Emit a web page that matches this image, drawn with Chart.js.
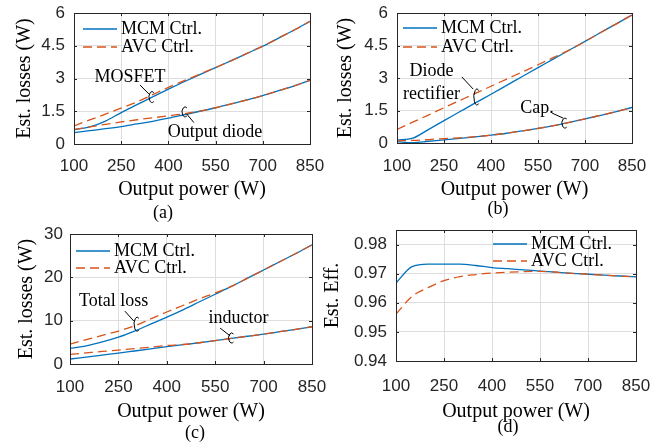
<!DOCTYPE html>
<html>
<head>
<meta charset="utf-8">
<script src="https://cdn.jsdelivr.net/npm/chart.js@4.4.1/dist/chart.umd.min.js"></script>
<style>
  body { margin: 0; background: #fff; width: 670px; height: 447px; position: relative; overflow: hidden; }
  canvas { position: absolute; }
  .cap { position: absolute; font: 18px "Liberation Serif", serif; color: #000; transform: translate(-50%, -50%); white-space: nowrap; }
</style>
</head>
<body>
<canvas id="chart-a"></canvas>
<canvas id="chart-b"></canvas>
<canvas id="chart-c"></canvas>
<canvas id="chart-d"></canvas>
<div class="cap" style="left:163px;top:212px">(a)</div>
<div class="cap" style="left:498px;top:208px">(b)</div>
<div class="cap" style="left:195px;top:432px">(c)</div>
<div class="cap" style="left:508px;top:426px">(d)</div>
<script>
// output power sweep (W), shared by all four plots
const powerW = [100, 150, 200, 250, 300, 350, 400, 450, 500, 550, 600, 650, 700, 750, 800, 850];
const powerTicks = [100, 250, 400, 550, 700, 850];

// (a) MOSFET and output diode losses (W)
const mosfetMcm = [0.65, 0.78, 1.05, 1.44, 1.80, 2.16, 2.51, 2.85, 3.18, 3.50, 3.82, 4.15, 4.48, 4.85, 5.22, 5.62];
const mosfetAvc = [0.83, 1.10, 1.37, 1.64, 1.93, 2.26, 2.59, 2.90, 3.20, 3.50, 3.82, 4.15, 4.48, 4.85, 5.22, 5.62];
const diodeMcm = [0.52, 0.61, 0.70, 0.80, 0.92, 1.04, 1.18, 1.34, 1.50, 1.66, 1.84, 2.02, 2.22, 2.44, 2.66, 2.92];
const diodeAvc = [0.67, 0.78, 0.90, 1.01, 1.11, 1.20, 1.29, 1.38, 1.51, 1.66, 1.84, 2.02, 2.22, 2.44, 2.66, 2.92];
const lossTicks = [0, 1.5, 3, 4.5, 6];

// (b) diode rectifier and capacitor losses (W)
const rectMcm = [0.14, 0.22, 0.62, 1.03, 1.44, 1.85, 2.25, 2.66, 3.07, 3.48, 3.88, 4.29, 4.69, 5.10, 5.50, 5.91];
const rectAvc = [0.63, 0.96, 1.29, 1.63, 1.96, 2.29, 2.62, 2.95, 3.28, 3.61, 3.95, 4.29, 4.69, 5.10, 5.50, 5.91];
const capMcm = [0.06, 0.02, 0.08, 0.14, 0.21, 0.28, 0.36, 0.45, 0.56, 0.67, 0.80, 0.95, 1.11, 1.28, 1.45, 1.64];
const capAvc = [0.10, 0.12, 0.16, 0.20, 0.24, 0.29, 0.36, 0.45, 0.56, 0.67, 0.80, 0.95, 1.11, 1.28, 1.45, 1.64];

// (c) total and inductor losses (W)
const totalMcm = [3.6, 4.2, 5.1, 6.2, 7.6, 9.2, 10.8, 12.5, 14.3, 16.1, 17.9, 19.8, 21.7, 23.6, 25.5, 27.5];
const totalAvc = [4.6, 5.6, 6.6, 7.6, 8.8, 10.4, 12.0, 13.5, 15.0, 16.4, 17.9, 19.8, 21.7, 23.6, 25.5, 27.5];
const inductorMcm = [1.15, 1.6, 2.05, 2.5, 3.0, 3.5, 4.0, 4.45, 4.9, 5.4, 5.9, 6.4, 6.9, 7.45, 8.0, 8.6];
const inductorAvc = [2.2, 2.55, 2.9, 3.2, 3.55, 3.9, 4.25, 4.5, 4.9, 5.4, 5.9, 6.4, 6.9, 7.45, 8.0, 8.6];
const totalTicks = [0, 10, 20, 30];

// (d) estimated efficiency
const effMcm = [0.9668, 0.9724, 0.9733, 0.9733, 0.9733, 0.9728, 0.9721, 0.9717, 0.9713, 0.9709, 0.9705, 0.9701, 0.9698, 0.9695, 0.9692, 0.9689];
const effAvc = [0.9561, 0.9622, 0.9652, 0.9676, 0.9690, 0.9697, 0.9702, 0.9705, 0.9707, 0.9708, 0.9705, 0.9701, 0.9698, 0.9695, 0.9692, 0.9689];
const effTicks = [0.94, 0.95, 0.96, 0.97, 0.98];

const MCM_LABEL = 'MCM Ctrl.';
const AVC_LABEL = 'AVC Ctrl.';

const BLUE = '#0072BD';
const ORANGE = '#D95319';
const AXIS = '#262626';
const SERIF = '"Liberation Serif", "Times New Roman", serif';
const SANS = '"Liberation Sans", Arial, sans-serif';

// box around the plot with matlab style inward ticks
const frameBox = {
  id: 'frameBox',
  afterDatasetsDraw(chart) {
    const {ctx, chartArea: a, scales} = chart;
    ctx.save();
    ctx.strokeStyle = AXIS;
    ctx.lineWidth = 1;
    ctx.setLineDash([]);
    ctx.strokeRect(Math.round(a.left) + 0.5, Math.round(a.top) + 0.5,
      Math.round(a.right - a.left), Math.round(a.bottom - a.top));
    ctx.beginPath();
    scales.x.ticks.forEach(t => {
      const px = Math.round(scales.x.getPixelForValue(t.value)) + 0.5;
      ctx.moveTo(px, a.bottom); ctx.lineTo(px, a.bottom - 3);
      ctx.moveTo(px, a.top); ctx.lineTo(px, a.top + 3);
    });
    scales.y.ticks.forEach(t => {
      const py = Math.round(scales.y.getPixelForValue(t.value)) + 0.5;
      ctx.moveTo(a.left, py); ctx.lineTo(a.left + 3, py);
      ctx.moveTo(a.right, py); ctx.lineTo(a.right - 3, py);
    });
    ctx.stroke();
    ctx.restore();
  }
};

// legend drawn inside the axes, no box (like matlab "legend boxoff")
const insideLegend = {
  id: 'insideLegend',
  afterDatasetsDraw(chart, args, opts) {
    if (!opts.items) return;
    const {ctx, chartArea} = chart;
    ctx.save();
    ctx.font = '18px ' + SERIF;
    ctx.textBaseline = 'middle';
    ctx.textAlign = 'left';
    ctx.fillStyle = '#000';
    opts.items.forEach((dsIndex, i) => {
      const ds = chart.data.datasets[dsIndex];
      const x = chartArea.left + opts.left;
      const y = chartArea.top + opts.rows[i];
      ctx.strokeStyle = ds.borderColor;
      ctx.lineWidth = ds.borderWidth;
      ctx.setLineDash(ds.borderDash || []);
      ctx.beginPath();
      ctx.moveTo(x, y);
      ctx.lineTo(x + 34, y);
      ctx.stroke();
      ctx.setLineDash([]);
      ctx.fillText(ds.label, x + 38, y);
    });
    ctx.restore();
  }
};

// text callouts with a pointer and a small open ring round the curve pair
const callouts = {
  id: 'callouts',
  afterDatasetsDraw(chart, args, opts) {
    if (!opts.items) return;
    const {ctx, scales: {x, y}} = chart;
    ctx.save();
    ctx.font = '18px ' + SERIF;
    ctx.textAlign = 'center';
    ctx.textBaseline = 'middle';
    ctx.fillStyle = '#000';
    ctx.strokeStyle = '#000';
    ctx.lineWidth = 1;
    opts.items.forEach(c => {
      c.labels.forEach(l => ctx.fillText(l.text, x.getPixelForValue(l.x), y.getPixelForValue(l.y)));
      ctx.beginPath();
      ctx.moveTo(x.getPixelForValue(c.from[0]), y.getPixelForValue(c.from[1]));
      ctx.lineTo(x.getPixelForValue(c.to[0]), y.getPixelForValue(c.to[1]));
      ctx.stroke();
      ctx.beginPath();
      ctx.ellipse(x.getPixelForValue(c.ring[0]), y.getPixelForValue(c.ring[1]), c.ring[2], c.ring[3], 0, 0.3 * Math.PI, 1.7 * Math.PI);
      ctx.stroke();
    });
    ctx.restore();
  }
};

function series(label, values, avc) {
  return {
    label: label,
    data: powerW.map((p, i) => ({x: p, y: values[i]})),
    borderColor: avc ? ORANGE : BLUE,
    borderDash: avc ? [9, 5] : [],
    borderWidth: 1.3,
    pointRadius: 0,
    fill: false,
    cubicInterpolationMode: 'monotone',
    order: avc ? 0 : 1
  };
}

function buildChart(id, cfg) {
  const el = document.getElementById(id);
  const b = cfg.box, p = cfg.plot;
  el.width = b.w;
  el.height = b.h;
  el.style.left = b.left + 'px';
  el.style.top = b.top + 'px';
  el.style.width = b.w + 'px';
  el.style.height = b.h + 'px';

  const xBottom = cfg.xTitleCy + 12;

  new Chart(el, {
    type: 'line',
    data: {datasets: cfg.datasets},
    options: {
      responsive: false,
      animation: false,
      devicePixelRatio: 1,
      events: [],
      layout: {padding: {left: 0, top: p.t, right: b.w - p.r, bottom: b.h - xBottom}},
      scales: {
        x: {
          type: 'linear',
          min: 100,
          max: 850,
          afterBuildTicks: s => { s.ticks = powerTicks.map(v => ({value: v})); },
          afterFit: s => { s.height = xBottom - p.b; s.paddingLeft = 0; s.paddingRight = 0; },
          grid: {color: '#dedede', lineWidth: 1, drawTicks: false},
          border: {display: false},
          ticks: {
            color: AXIS,
            font: {family: SANS, size: 17},
            padding: cfg.xTickCy - p.b - 10.2,
            maxRotation: 0,
            autoSkip: false
          },
          title: {
            display: true,
            text: 'Output power (W)',
            color: '#000',
            font: {family: SERIF, size: 20},
            padding: {top: 0, bottom: 0}
          }
        },
        y: {
          type: 'linear',
          min: cfg.yMin,
          max: cfg.yMax,
          afterBuildTicks: s => { s.ticks = cfg.yTicks.map(v => ({value: v})); },
          afterFit: s => { s.width = p.l; s.paddingTop = 0; s.paddingBottom = 0; },
          grid: {color: '#dedede', lineWidth: 1, drawTicks: false},
          border: {display: false},
          ticks: {
            color: AXIS,
            font: {family: SANS, size: 17},
            padding: p.l - cfg.yTickRight,
            callback: v => String(v)
          },
          title: {
            display: true,
            text: cfg.yTitle,
            color: '#000',
            font: {family: SERIF, size: 20},
            padding: {top: cfg.yTitleX - 12, bottom: 0}
          }
        }
      },
      plugins: {
        legend: {display: false},
        tooltip: {enabled: false},
        insideLegend: cfg.legend,
        callouts: {items: cfg.callouts}
      }
    },
    plugins: [frameBox, insideLegend, callouts]
  });
}

buildChart('chart-a', {
  box: {left: 0, top: 0, w: 335, h: 224},
  plot: {l: 74, r: 310, t: 13, b: 144},
  yTitleX: 25, yTickRight: 65, xTickCy: 166, xTitleCy: 190,
  yMin: 0, yMax: 6, yTicks: lossTicks,
  yTitle: 'Est. losses (W)',
  datasets: [
    series(MCM_LABEL, mosfetMcm, false),
    series(AVC_LABEL, mosfetAvc, true),
    series(MCM_LABEL, diodeMcm, false),
    series(AVC_LABEL, diodeAvc, true)
  ],
  legend: {items: [0, 1], left: 9, rows: [16, 34]},
  callouts: [
    {labels: [{text: 'MOSFET', x: 278, y: 3.07}], from: [310, 2.70], to: [338, 2.29], ring: [348, 2.15, 3, 5.5]},
    {labels: [{text: 'Output diode', x: 548, y: 0.52}], from: [458, 1.38], to: [481, 0.98], ring: [453, 1.47, 3, 5]}
  ]
});

buildChart('chart-b', {
  box: {left: 320, top: 0, w: 350, h: 224},
  plot: {l: 77, r: 312, t: 13, b: 143},
  yTitleX: 25.5, yTickRight: 68, xTickCy: 166, xTitleCy: 190,
  yMin: 0, yMax: 6, yTicks: lossTicks,
  yTitle: 'Est. losses (W)',
  datasets: [
    series(MCM_LABEL, rectMcm, false),
    series(AVC_LABEL, rectAvc, true),
    series(MCM_LABEL, capMcm, false),
    series(AVC_LABEL, capAvc, true)
  ],
  legend: {items: [0, 1], left: 6, rows: [15, 34]},
  callouts: [
    {labels: [{text: 'Diode', x: 210, y: 3.32}, {text: 'rectifier', x: 210, y: 2.26}], from: [307, 3.05], to: [343, 2.49], ring: [355, 2.12, 3, 8]},
    {labels: [{text: 'Cap.', x: 547, y: 1.62}], from: [595, 1.38], to: [630, 1.15], ring: [636, 0.92, 3, 5]}
  ]
});

buildChart('chart-c', {
  box: {left: 0, top: 224, w: 335, h: 223},
  plot: {l: 70, r: 312, t: 10, b: 140},
  yTitleX: 27, yTickRight: 63, xTickCy: 163, xTitleCy: 188,
  yMin: 0, yMax: 30, yTicks: totalTicks,
  yTitle: 'Est. losses (W)',
  datasets: [
    series(MCM_LABEL, totalMcm, false),
    series(AVC_LABEL, totalAvc, true),
    series(MCM_LABEL, inductorMcm, false),
    series(AVC_LABEL, inductorAvc, true)
  ],
  legend: {items: [0, 1], left: 6, rows: [17, 34]},
  callouts: [
    {labels: [{text: 'Total loss', x: 235, y: 14.5}], from: [270, 12.2], to: [298, 9.9], ring: [308, 9.2, 3, 7]},
    {labels: [{text: 'inductor', x: 622, y: 10.6}], from: [565, 8.3], to: [596, 6.5], ring: [601, 6.0, 3, 5]}
  ]
});

buildChart('chart-d', {
  box: {left: 320, top: 224, w: 350, h: 223},
  plot: {l: 76, r: 316, t: 6, b: 137},
  yTitleX: 13, yTickRight: 67, xTickCy: 162, xTitleCy: 188,
  yMin: 0.94, yMax: 0.985, yTicks: effTicks,
  yTitle: 'Est. Eff.',
  datasets: [
    series(MCM_LABEL, effMcm, false),
    series(AVC_LABEL, effAvc, true)
  ],
  legend: {items: [0, 1], left: 97, rows: [14, 31]},
  callouts: []
});
</script>
</body>
</html>
